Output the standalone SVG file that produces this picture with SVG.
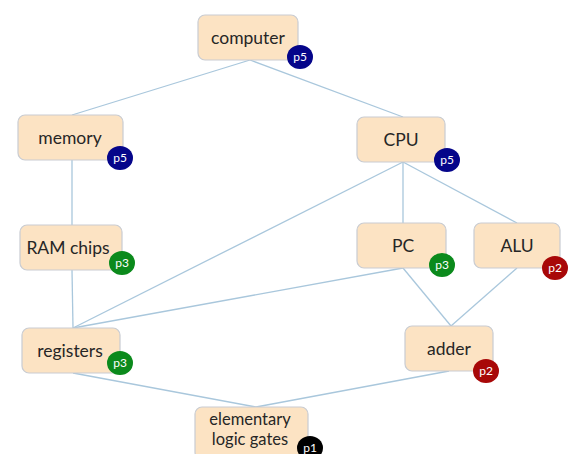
<svg xmlns="http://www.w3.org/2000/svg" width="583" height="454" viewBox="0 0 583 454">
<style>
.box{fill:#fce3c3;stroke:#c9ccd2;stroke-width:1.2}
.lbl{font-family:"Lato","Liberation Sans",sans-serif;font-size:17.5px;fill:#262626;text-anchor:middle}
.lbl2{font-size:16.5px}
.bt{font-family:"Lato","Liberation Sans",sans-serif;font-size:12px;fill:#ffffff;text-anchor:middle}
.p5{fill:#05058a}.p3{fill:#0b8a1c}.p2{fill:#a80808}.p1{fill:#000000}
.edge{stroke:#a9c7dc;stroke-width:1.3;fill:none}
</style>
<rect width="583" height="454" fill="#ffffff"/>
<g id="connectors">
<line class="edge" x1="250" y1="60" x2="72" y2="115"/>
<line class="edge" x1="250" y1="60" x2="403" y2="117"/>
<line class="edge" x1="72" y1="160" x2="72" y2="225"/>
<line class="edge" x1="72" y1="270" x2="73" y2="328"/>
<line class="edge" x1="403" y1="162" x2="73" y2="328"/>
<line class="edge" x1="403" y1="162" x2="403" y2="223"/>
<line class="edge" x1="403" y1="162" x2="517" y2="223"/>
<line class="edge" x1="403" y1="268" x2="73" y2="328"/>
<line class="edge" x1="403" y1="268" x2="451" y2="326"/>
<line class="edge" x1="517" y1="268" x2="451" y2="326"/>
<line class="edge" x1="73" y1="373" x2="256" y2="407"/>
<line class="edge" x1="449" y1="371" x2="256" y2="407"/>
</g>
<g id="computer"><rect class="box" x="198" y="15" width="100" height="45" rx="7"/><text class="lbl" x="248" y="44">computer</text><ellipse class="p5" cx="300" cy="57" rx="13" ry="12"/><text class="bt" x="300" y="61">p5</text></g>
<g id="memory"><rect class="box" x="18" y="115" width="105" height="45" rx="7"/><text class="lbl" x="70" y="144">memory</text><ellipse class="p5" cx="120" cy="158" rx="13" ry="12"/><text class="bt" x="120" y="162">p5</text></g>
<g id="cpu"><rect class="box" x="357" y="117" width="88" height="45" rx="7"/><text class="lbl" x="401" y="146">CPU</text><ellipse class="p5" cx="447" cy="160" rx="13" ry="12"/><text class="bt" x="447" y="164">p5</text></g>
<g id="ram"><rect class="box" x="20" y="225" width="102" height="45" rx="7"/><text class="lbl" x="68" y="254">RAM chips</text><ellipse class="p3" cx="122" cy="263" rx="13" ry="12"/><text class="bt" x="122" y="267">p3</text></g>
<g id="pc"><rect class="box" x="357" y="223" width="89" height="45" rx="7"/><text class="lbl" x="403" y="252">PC</text><ellipse class="p3" cx="442" cy="265" rx="13" ry="12"/><text class="bt" x="442" y="269">p3</text></g>
<g id="alu"><rect class="box" x="474" y="223" width="86" height="45" rx="7"/><text class="lbl" x="517" y="252">ALU</text><ellipse class="p2" cx="555" cy="268" rx="13" ry="12"/><text class="bt" x="555" y="272">p2</text></g>
<g id="registers"><rect class="box" x="22" y="328" width="98" height="45" rx="7"/><text class="lbl" x="70" y="357">registers</text><ellipse class="p3" cx="120" cy="363" rx="13" ry="12"/><text class="bt" x="120" y="367">p3</text></g>
<g id="adder"><rect class="box" x="405" y="326" width="88" height="45" rx="7"/><text class="lbl" x="449" y="355">adder</text><ellipse class="p2" cx="486" cy="371" rx="13" ry="12"/><text class="bt" x="486" y="375">p2</text></g>
<g id="gates"><rect class="box" x="195" y="407" width="113" height="52" rx="7"/><text class="lbl lbl2" x="250" y="425">elementary</text><text class="lbl lbl2" x="250" y="445">logic gates</text><ellipse class="p1" cx="310" cy="448" rx="13" ry="12"/><text class="bt" x="310" y="452">p1</text></g>
</svg>
